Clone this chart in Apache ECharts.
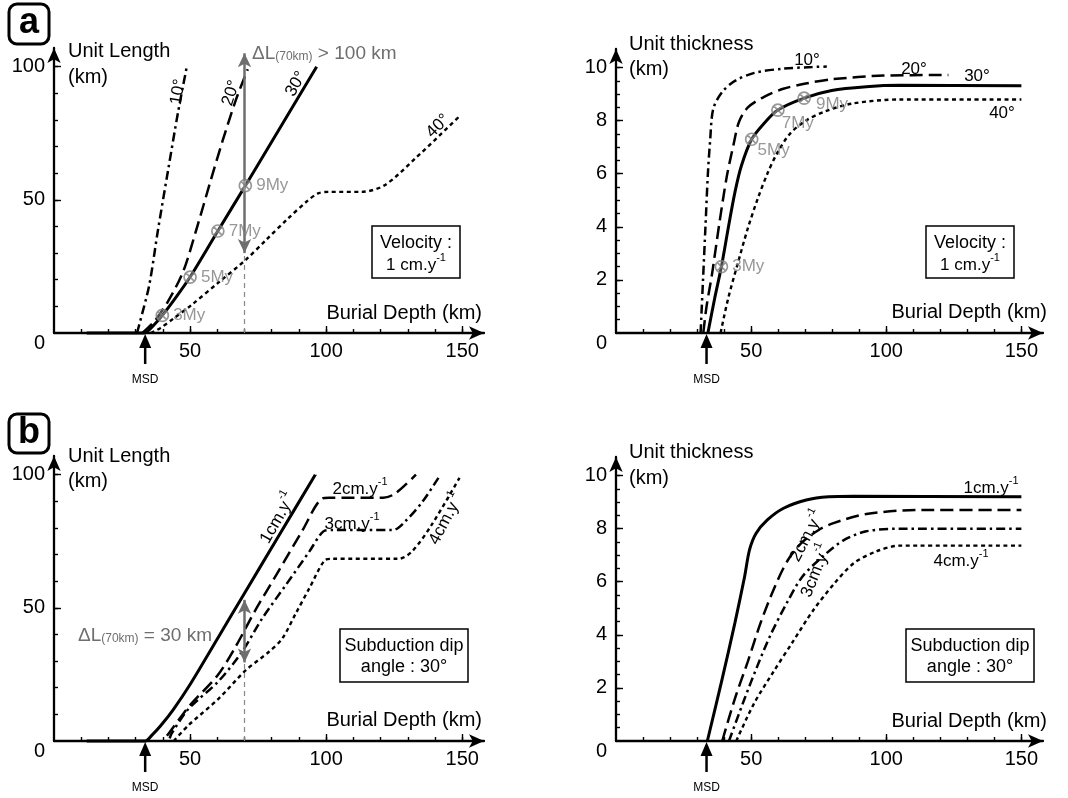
<!DOCTYPE html>
<html>
<head>
<meta charset="utf-8">
<script src="https://cdn.jsdelivr.net/npm/echarts@6/dist/echarts.min.js"></script>
<style>
html, body { margin: 0; padding: 0; background: #fff; }
#chart { width: 1068px; height: 798px; }
</style>
</head>
<body>
<div id="chart"></div>
<script>
// ---- data (km) ----
var msdDepth = 33.5;
var xMajor = [50, 100, 150];
var xMinor = [10, 20, 30, 40, 50, 60, 70, 80, 90, 100, 110, 120, 130, 140, 150];
var lenLabels = [0, 50, 100];
var lenMajor = [50, 100];
var lenMinor = [10, 20, 30, 40, 50, 60, 70, 80, 90, 100];
var thickLabels = [0, 2, 4, 6, 8, 10];
var thickMajor = [2, 4, 6, 8, 10];
var thickMinor = [0.5, 1, 1.5, 2, 2.5, 3, 3.5, 4, 4.5, 5, 5.5, 6, 6.5, 7, 7.5, 8, 8.5, 9, 9.5, 10];

// a : longueur de l'unite selon le pendage (1 cm/an)
var lenDip10 = [[30.5, 0], [31.3, 3], [35, 18], [38.1, 38], [41.9, 61], [45.6, 83], [48.8, 100]];
var lenDip20 = [[32.5, 0], [36.9, 4.4], [41.9, 11.9], [47.5, 23.2], [52.5, 39.5], [57.5, 57], [61.9, 72], [66.9, 87.7], [71.2, 99]];
var lenDip30 = [[12, 0], [33, 0], [36.5, 2.8], [39.8, 6.6], [44.4, 12.8], [50, 21], [60.2, 38.3], [70.3, 55.3], [80, 71.8], [96.5, 100]];
var lenDip40 = [[35.5, 0], [39, 1.8], [44, 5.5], [50.5, 10.5], [60.5, 19], [70.6, 27.6], [78, 35], [85.6, 42.6], [93, 49.5], [97, 52.4], [101, 53], [113, 53], [121.5, 55.5], [132.7, 65.5], [148.8, 81.2]];
var lenAges = [[39.8, 6.6], [50, 21], [60.2, 38.3], [70.3, 55.3]];
var ageNames = ['3My', '5My', '7My', '9My'];
var lenArrowA = [70, 30, 105];   // x, bas, haut

// a : epaisseur
var thickDip10 = [[31.3, 0], [32.2, 2], [33.1, 4], [34, 6], [34.8, 7.2], [36, 8.45], [39.3, 9.08], [44, 9.5], [51.2, 9.8], [61.9, 9.96], [72.6, 10.02], [78, 10.04]];
var thickDip20 = [[32.3, 0], [33.5, 1], [35.5, 2.2], [38.2, 4.1], [41, 5.9], [43.5, 7.1], [45.5, 7.95], [48.8, 8.5], [54.8, 8.9], [61.9, 9.2], [70.2, 9.4], [80, 9.56], [99, 9.7], [123, 9.72]];
var thickDip30 = [[34, 0], [36.5, 1.3], [39, 2.5], [41.7, 4.05], [44, 5.3], [46.4, 6.3], [50.2, 7.3], [54.8, 7.9], [59.9, 8.4], [69.6, 8.85], [79.8, 9.14], [92.6, 9.28], [105, 9.33], [150, 9.32]];
var thickDip40 = [[38.7, 0], [41.5, 1.3], [45, 2.6], [48.8, 3.95], [52.4, 5.05], [56, 6], [59.5, 6.75], [64.3, 7.5], [70.2, 8], [77.4, 8.35], [87.7, 8.65], [105, 8.8], [150, 8.8]];
var thickAges = [[39, 2.5], [50.2, 7.3], [59.9, 8.4], [69.6, 8.85]];

// b : longueur selon la vitesse (pendage 30)
var lenV1 = [[12, 0], [33.5, 0], [36, 2.2], [39.1, 5.6], [43.9, 11.9], [50, 21.2], [60, 38.3], [70, 55.5], [82, 76], [96, 100]];
var lenV2 = [[41.5, 2], [43, 4], [50, 13.5], [60, 24.5], [66.4, 34.8], [73.7, 48.6], [82.4, 63.6], [91.1, 78.7], [98.5, 91], [101, 91.3], [121, 91.3], [125.5, 93], [133, 100]];
var lenV3 = [[42.5, 1], [43.2, 2.8], [49.4, 12], [60.5, 22.5], [69.1, 33.5], [76.5, 46], [85.2, 58.6], [93.8, 71.1], [99, 78.7], [102, 79.2], [124.5, 79.2], [129, 82.4], [135.5, 90], [142, 100]];
var lenV4 = [[44, 0], [49.4, 5.9], [60.5, 15.9], [70.4, 26.5], [79, 33.5], [83.9, 38.5], [88.9, 48], [93.8, 57.3], [99.4, 67.8], [102, 68.4], [126.5, 68.4], [131.5, 71.1], [138.8, 81.2], [149, 98.8]];
var lenArrowB = [70, 29.5, 53];

// b : epaisseur
var thickV1 = [[33.8, 0], [39.2, 2.3], [44, 4.45], [47.6, 6.2], [49.4, 7.2], [51.8, 7.82], [56, 8.33], [62, 8.77], [70.4, 9.08], [78.7, 9.2], [88, 9.22], [150, 9.2]];
var thickV2 = [[39.3, 0], [44, 1.6], [48.8, 3], [53.5, 4.45], [58.5, 5.75], [63.5, 6.8], [69, 7.5], [75, 7.95], [80.2, 8.2], [92.6, 8.55], [111, 8.7], [150, 8.7]];
var thickV3 = [[41.8, 0], [47.6, 1.6], [52.4, 2.85], [57.2, 4], [63.2, 5.2], [69, 6.2], [76.5, 6.95], [84, 7.55], [92.6, 7.9], [105, 8], [150, 8]];
var thickV4 = [[44.5, 0], [51, 1.4], [58.2, 2.6], [65.5, 3.75], [72.8, 4.9], [80.5, 5.9], [88, 6.7], [96.5, 7.15], [105, 7.36], [150, 7.36]];

// ---- style ----
var FONT = '"Liberation Sans", Arial, Helvetica, sans-serif';
var GREY = '#6e6e6e';
var MARK = '#7d7d7d';
var ringCross = 'path://M-10,0A10,10,0,1,1,10,0A10,10,0,1,1,-10,0ZM-7,-7L7,7M7,-7L-7,7';
var kinds = {
    solid: { width: 3, type: 'solid' },
    dash: { width: 2.5, type: [13, 6] },
    dashdot: { width: 2.5, type: [9, 4, 2.5, 4] },
    dot: { width: 2.4, type: [4, 3.5] }
};
var thickAgeOffsets = [[0, 0], [-5, 11], [-7, 13], [1, 6]];

var chart = echarts.init(document.getElementById('chart'));

var grids = [
    { left: 54, top: 48, width: 430, height: 285 },
    { left: 616, top: 49, width: 427, height: 284 },
    { left: 54, top: 456, width: 430, height: 285 },
    { left: 616, top: 457, width: 427, height: 284 }
];

var axisLine = {
    onZero: false,
    lineStyle: { color: '#000', width: 2.3 },
    symbol: ['none', 'arrow'],
    symbolSize: [10, 15]
};
var tickLine = { color: '#000', width: 1.4 };
var labelFont = { fontSize: 20, color: '#000', fontFamily: FONT };

var xAxis = [], yAxis = [];
for (var g = 0; g < 4; g++) {
    xAxis.push({
        type: 'value', gridIndex: g, min: 0, max: 158, position: 'bottom',
        axisLine: axisLine,
        axisTick: { inside: true, length: 4, customValues: xMinor, lineStyle: tickLine },
        axisLabel: Object.assign({ customValues: xMajor, margin: 8 }, labelFont),
        splitLine: { show: false }
    });
}
for (var g = 0; g < 4; g++) {
    xAxis.push({
        type: 'value', gridIndex: g, min: 0, max: 158, position: 'bottom',
        axisLine: { show: false },
        axisTick: { inside: true, length: 7, customValues: xMajor, lineStyle: tickLine },
        axisLabel: { show: false },
        splitLine: { show: false }
    });
}
for (var g = 0; g < 4; g++) {
    var isLen = g % 2 === 0;
    yAxis.push({
        type: 'value', gridIndex: g, min: 0, max: isLen ? 107 : 10.7, position: 'left',
        axisLine: axisLine,
        axisTick: { inside: true, length: 4, customValues: isLen ? lenMinor : thickMinor, lineStyle: tickLine },
        axisLabel: Object.assign({
            customValues: isLen ? lenLabels : thickLabels,
            margin: 9,
            formatter: function(v) { return v === 0 ? '\n0' : String(v); }
        }, labelFont),
        splitLine: { show: false }
    });
}
for (var g = 0; g < 4; g++) {
    var isLen2 = g % 2 === 0;
    yAxis.push({
        type: 'value', gridIndex: g, min: 0, max: isLen2 ? 107 : 10.7, position: 'left',
        axisLine: { show: false },
        axisTick: { inside: true, length: 7, customValues: isLen2 ? lenMajor : thickMajor, lineStyle: tickLine },
        axisLabel: { show: false },
        splitLine: { show: false }
    });
}

function curve(g, data, kind, extra) {
    var s = {
        type: 'line', xAxisIndex: g, yAxisIndex: g, data: data,
        showSymbol: false, smooth: 0.3, clip: false, silent: true,
        lineStyle: { color: '#000', width: kinds[kind].width, type: kinds[kind].type, cap: 'butt' },
        z: 3
    };
    return Object.assign(s, extra || {});
}

function arrowLine(a) {
    return {
        silent: true, animation: false,
        symbol: ['arrow', 'arrow'], symbolSize: [10, 14],
        label: { show: false },
        emphasis: { disabled: true },
        lineStyle: { color: GREY, width: 2.5, type: 'solid' },
        data: [
            [{ coord: [a[0], a[1]] }, { coord: [a[0], a[2]] }],
            [{ coord: [a[0], 0], symbol: 'none', lineStyle: { color: '#888', width: 1.2, type: [5, 4] } },
             { coord: [a[0], a[1]], symbol: 'none' }]
        ]
    };
}

function ages(g, pts, offsets) {
    return {
        type: 'scatter', xAxisIndex: g, yAxisIndex: g, silent: true, z: 6,
        symbol: ringCross, symbolSize: 12,
        itemStyle: { color: 'rgba(255,255,255,0.35)', borderColor: MARK, borderWidth: 1.7 },
        label: {
            show: true, position: 'right', distance: 4, color: MARK, fontSize: 17, fontFamily: FONT,
            formatter: function(p) { return ageNames[p.dataIndex]; }
        },
        data: pts.map(function(p, i) {
            var o = offsets ? offsets[i] : [0, 0];
            return { value: p, label: { offset: o } };
        })
    };
}

var series = [
    curve(0, lenDip10, 'dashdot'),
    curve(0, lenDip20, 'dash'),
    curve(0, lenDip30, 'solid'),
    curve(0, lenDip40, 'dot'),
    Object.assign(ages(0, lenAges), { markLine: arrowLine(lenArrowA) }),

    curve(1, thickDip10, 'dashdot'),
    curve(1, thickDip20, 'dash'),
    curve(1, thickDip30, 'solid'),
    curve(1, thickDip40, 'dot'),
    ages(1, thickAges, thickAgeOffsets),

    curve(2, lenV1, 'solid', { markLine: arrowLine(lenArrowB) }),
    curve(2, lenV2, 'dash'),
    curve(2, lenV3, 'dashdot'),
    curve(2, lenV4, 'dot'),

    curve(3, thickV1, 'solid'),
    curve(3, thickV2, 'dash'),
    curve(3, thickV3, 'dashdot'),
    curve(3, thickV4, 'dot')
];

chart.setOption({
    animation: false,
    textStyle: { fontFamily: FONT },
    grid: grids.map(function(r) { return Object.assign({ outerBoundsMode: 'none', containLabel: false }, r); }),
    xAxis: xAxis,
    yAxis: yAxis,
    series: series
});

// ---- annotations ----
var rich = {
    m: { fontSize: 17, lineHeight: 22, verticalAlign: 'bottom', fontFamily: FONT },
    sup: { fontSize: 11, lineHeight: 12, verticalAlign: 'top', fontFamily: FONT },
    d: { fontSize: 19, lineHeight: 22, verticalAlign: 'bottom', fontFamily: FONT },
    sub: { fontSize: 12, lineHeight: 16, verticalAlign: 'bottom', fontFamily: FONT }
};
function txt(x, y, text, size, o) {
    o = o || {};
    return {
        type: 'text', x: x, y: y, silent: true, z: 20,
        rotation: (o.rot || 0) * Math.PI / 180,
        style: {
            text: text, fontSize: size, fontFamily: FONT,
            fontWeight: o.weight || 'normal', fill: o.color || '#000',
            align: o.align || 'center', verticalAlign: 'middle', rich: rich
        }
    };
}
function box(x, y, w, h, r, lw) {
    return {
        type: 'rect', silent: true, z: 15,
        shape: { x: x, y: y, width: w, height: h, r: r || 0 },
        style: { fill: '#fff', stroke: '#000', lineWidth: lw || 1.5 }
    };
}
function perYear(v) { return '{m|' + v + 'cm.y}{sup|-1}'; }

var graphic = [
    // a
    box(9, 4, 40, 40, 8, 3), txt(29, 23, 'a', 36, { weight: 'bold' }),
    txt(68, 51, 'Unit Length', 20, { align: 'left' }), txt(68, 77, '(km)', 20, { align: 'left' }),
    txt(482, 313, 'Burial Depth (km)', 20, { align: 'right' }),
    txt(178, 92, '10°', 17, { rot: 80 }), txt(231, 93, '20°', 17, { rot: 72 }),
    txt(296, 84, '30°', 17, { rot: 60 }), txt(438, 126, '40°', 17, { rot: 45 }),
    txt(252, 52, '{d|ΔL}{sub|(70km)}{d| > 100 km}', 19, { align: 'left', color: GREY }),
    box(372, 226, 88, 52), txt(416, 243, 'Velocity :', 18), txt(416, 263, '{m|1 cm.y}{sup|-1}', 17),

    txt(629, 44, 'Unit thickness', 20, { align: 'left' }), txt(629, 69, '(km)', 20, { align: 'left' }),
    txt(1047, 312, 'Burial Depth (km)', 20, { align: 'right' }),
    txt(807, 60, '10°', 17), txt(914, 69, '20°', 17), txt(977, 76, '30°', 17), txt(1002, 113, '40°', 17),
    box(926, 226, 88, 52), txt(970, 243, 'Velocity :', 18), txt(970, 263, '{m|1 cm.y}{sup|-1}', 17),

    // b
    box(9, 414, 40, 39, 8, 3), txt(29, 433, 'b', 36, { weight: 'bold' }),
    txt(68, 456, 'Unit Length', 20, { align: 'left' }), txt(68, 481, '(km)', 20, { align: 'left' }),
    txt(482, 720, 'Burial Depth (km)', 20, { align: 'right' }),
    txt(276, 517, perYear(1), 17, { rot: 60 }), txt(360, 487, perYear(2), 17),
    txt(352, 522, perYear(3), 17), txt(444, 518, perYear(4), 17, { rot: 62 }),
    txt(78, 634, '{d|ΔL}{sub|(70km)}{d| = 30 km}', 19, { align: 'left', color: GREY }),
    box(340, 629, 128, 53), txt(404, 646, 'Subduction dip', 18), txt(404, 667, 'angle : 30°', 18),

    txt(629, 452, 'Unit thickness', 20, { align: 'left' }), txt(629, 478, '(km)', 20, { align: 'left' }),
    txt(1047, 721, 'Burial Depth (km)', 20, { align: 'right' }),
    txt(991, 486, perYear(1), 17), txt(805, 535, perYear(2), 17, { rot: 62 }),
    txt(814, 570, perYear(3), 17, { rot: 68 }), txt(961, 559, perYear(4), 17),
    box(906, 629, 128, 53), txt(970, 646, 'Subduction dip', 18), txt(970, 667, 'angle : 30°', 18)
];

// fleches MSD sous l'axe
for (var k = 0; k < 4; k++) {
    var p = chart.convertToPixel({ xAxisIndex: k, yAxisIndex: k }, [msdDepth, 0]);
    graphic.push({
        type: 'polygon', silent: true, z: 20,
        shape: { points: [[p[0], p[1] + 1], [p[0] - 6, p[1] + 15], [p[0] + 6, p[1] + 15]] },
        style: { fill: '#000' }
    });
    graphic.push({
        type: 'line', silent: true, z: 20,
        shape: { x1: p[0], y1: p[1] + 14, x2: p[0], y2: p[1] + 31 },
        style: { stroke: '#000', lineWidth: 2.5 }
    });
    graphic.push(txt(p[0], p[1] + 47, 'MSD', 12));
}

chart.setOption({ graphic: graphic });
</script>
</body>
</html>
